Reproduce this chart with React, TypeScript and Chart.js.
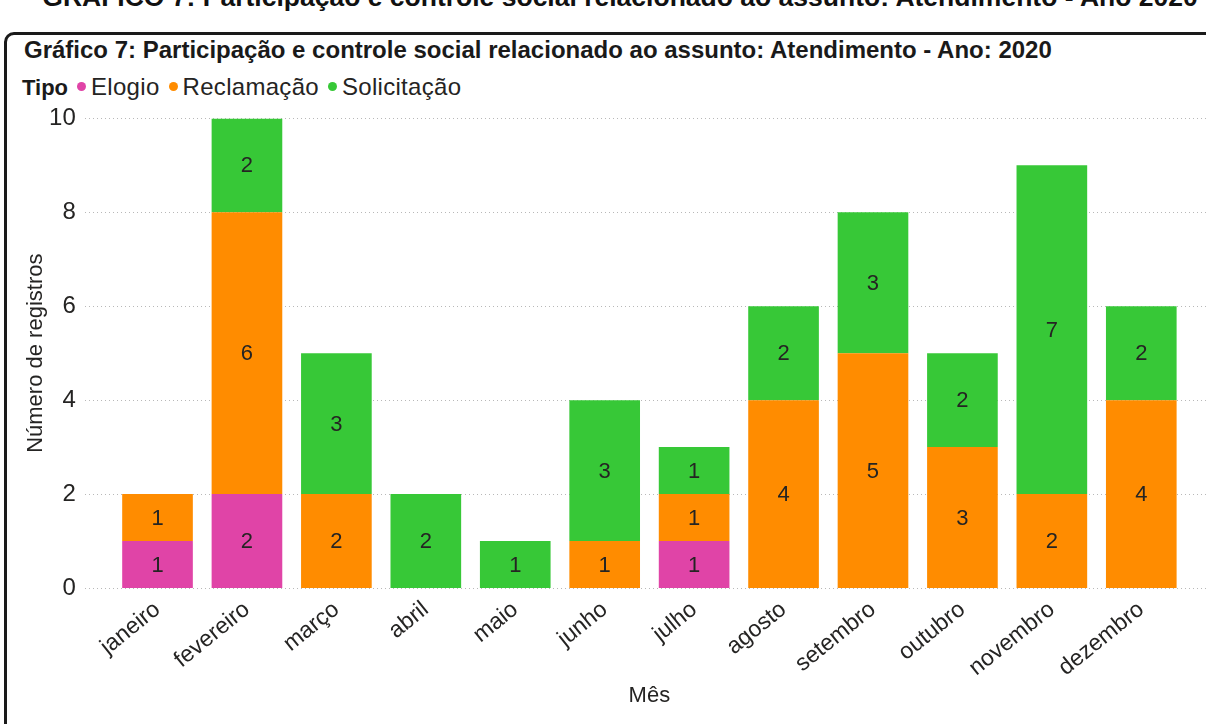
import React, { useEffect, useRef } from "react";
import { Chart, registerables } from "chart.js";

Chart.register(...registerables);

const months = [
  "janeiro", "fevereiro", "março", "abril", "maio", "junho",
  "julho", "agosto", "setembro", "outubro", "novembro", "dezembro",
];
const elogio = [1, 2, null, null, null, null, 1, null, null, null, null, null];
const reclamacao = [1, 6, 2, null, null, 1, 1, 4, 5, 3, 2, 4];
const solicitacao = [null, 2, 3, 2, 1, 3, 1, 2, 3, 2, 7, 2];
const yTicks = [0, 2, 4, 6, 8, 10];

const FONT = "Arial, 'Liberation Sans', sans-serif";
const TEXT = "#252423";
const COLORS = { elogio: "#E044A7", reclamacao: "#FF8C00", solicitacao: "#37C837" };

// Dotted horizontal gridlines spanning from the tick labels to the right edge
const gridPlugin = {
  id: "dottedGrid",
  beforeDatasetsDraw(chart: any) {
    const { ctx, scales } = chart;
    const y = scales.y;
    ctx.save();
    ctx.strokeStyle = "#b8b8b8";
    ctx.lineWidth = 1;
    ctx.setLineDash([1, 3]);
    for (const v of yTicks) {
      const py = Math.round(y.getPixelForValue(v)) + 0.5;
      ctx.beginPath();
      ctx.moveTo(77, py);
      ctx.lineTo(chart.width, py);
      ctx.stroke();
    }
    ctx.restore();
  },
};

// Value labels centred in each stacked segment
const labelPlugin = {
  id: "segmentLabels",
  afterDatasetsDraw(chart: any) {
    const { ctx } = chart;
    ctx.save();
    ctx.font = `22px ${FONT}`;
    ctx.fillStyle = TEXT;
    ctx.textAlign = "center";
    ctx.textBaseline = "middle";
    chart.data.datasets.forEach((ds: any, i: number) => {
      const meta = chart.getDatasetMeta(i);
      meta.data.forEach((bar: any, j: number) => {
        const v = ds.data[j];
        if (v == null) return;
        const { x, y, base } = bar.getProps(["x", "y", "base"], true);
        ctx.fillText(String(v), x, (y + base) / 2 + 1);
      });
    });
    ctx.restore();
  },
};

function BarChart() {
  const ref = useRef<HTMLCanvasElement | null>(null);
  useEffect(() => {
    if (!ref.current) return;
    const chart = new Chart(ref.current, {
      type: "bar",
      data: {
        labels: months,
        datasets: [
          { label: "Elogio", data: elogio, backgroundColor: COLORS.elogio },
          { label: "Reclamação", data: reclamacao, backgroundColor: COLORS.reclamacao },
          { label: "Solicitação", data: solicitacao, backgroundColor: COLORS.solicitacao },
        ],
      },
      options: {
        animation: false,
        responsive: false,
        maintainAspectRatio: false,
        layout: { padding: { left: 0, right: 20, top: 0, bottom: 0 } },
        plugins: { legend: { display: false }, title: { display: false }, tooltip: { enabled: false } },
        datasets: { bar: { categoryPercentage: 1, barPercentage: 0.79, borderWidth: 0 } },
        scales: {
          x: {
            stacked: true,
            grid: { display: false, drawTicks: false },
            border: { display: false },
            ticks: {
              color: TEXT,
              font: { family: FONT, size: 23 },
              minRotation: 39,
              maxRotation: 39,
              padding: 8,
              autoSkip: false,
            },
            title: {
              display: true,
              text: "Mês",
              color: TEXT,
              font: { family: FONT, size: 22 },
              padding: { top: 0, bottom: 15 },
            },
            afterFit(s: any) { s.height = 136; },
          },
          y: {
            stacked: true,
            min: 0,
            max: 10,
            afterBuildTicks(s: any) { s.ticks = yTicks.map((v) => ({ value: v })); },
            grid: { display: false, drawTicks: false },
            border: { display: false },
            ticks: {
              color: TEXT,
              font: { family: FONT, size: 24 },
              padding: 37,
            },
            title: {
              display: true,
              text: "Número de registros",
              color: TEXT,
              font: { family: FONT, size: 22 },
              padding: { top: 15, bottom: 0 },
            },
            afterFit(s: any) { s.width = 104.8; },
          },
        },
      },
      plugins: [gridPlugin, labelPlugin],
    } as any);
    return () => chart.destroy();
  }, []);
  return <canvas ref={ref} width={1198} height={657} style={{ position: "absolute", left: 8, top: 67 }} />;
}

function Dot({ color }: { color: string }) {
  return (
    <span
      style={{
        display: "inline-block",
        width: 9,
        height: 9,
        borderRadius: "50%",
        background: color,
        marginRight: 5,
        marginLeft: 9,
        verticalAlign: "middle",
        position: "relative",
        top: -2,
      }}
    />
  );
}

export default function App() {
  return (
    <div
      style={{
        position: "fixed",
        left: 0,
        top: 0,
        width: 1206,
        height: 724,
        overflow: "hidden",
        background: "#fff",
        fontFamily: FONT,
      }}
    >
      <div
        style={{
          position: "absolute",
          left: 0,
          width: 1240,
          top: -16,
          textAlign: "center",
          fontWeight: "bold",
          fontSize: 26.5,
          lineHeight: "27px",
          color: "#111",
          whiteSpace: "nowrap",
        }}
      >
        GRÁFICO 7: Participação e controle social relacionado ao assunto: Atendimento - Ano 2020
      </div>
      <div
        style={{
          position: "absolute",
          left: 4,
          top: 32,
          width: 1260,
          height: 800,
          border: "3px solid #1a1a1a",
          borderRadius: 10,
          boxSizing: "border-box",
        }}
      />
      <div
        style={{
          position: "absolute",
          left: 24,
          top: 37,
          fontWeight: "bold",
          fontSize: 24,
          lineHeight: "26px",
          color: "#1a1a1a",
          whiteSpace: "nowrap",
        }}
      >
        Gráfico 7: Participação e controle social relacionado ao assunto: Atendimento - Ano: 2020
      </div>
      <div
        style={{
          position: "absolute",
          left: 22,
          top: 74,
          fontSize: 24,
          lineHeight: "26px",
          color: TEXT,
          whiteSpace: "nowrap",
        }}
      >
        <span style={{ fontWeight: "bold", color: "#1a1a1a", fontSize: 22 }}>Tipo</span>
        <Dot color={COLORS.elogio} />
        <span style={{ letterSpacing: 0.3 }}>Elogio</span>
        <Dot color={COLORS.reclamacao} />
        <span style={{ letterSpacing: 0.3 }}>Reclamação</span>
        <Dot color={COLORS.solicitacao} />
        <span style={{ letterSpacing: 0.3 }}>Solicitação</span>
      </div>
      <BarChart />
    </div>
  );
}
